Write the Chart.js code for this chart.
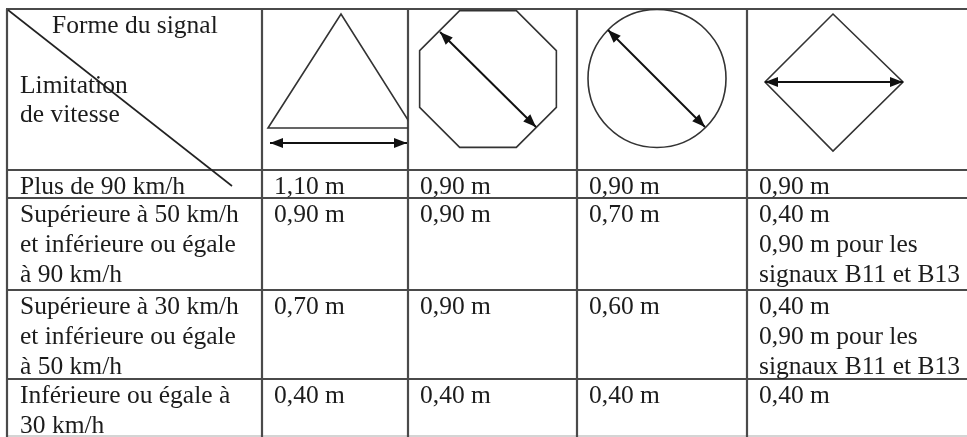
<!DOCTYPE html>
<html><head><meta charset="utf-8">
<script src="https://cdn.jsdelivr.net/npm/chart.js@4.4.1/dist/chart.umd.min.js"></script>
<style>html,body{margin:0;padding:0;background:#fff}canvas{display:block}</style>
</head><body>
<canvas id="c" width="967" height="437"></canvas>
<script>
// ---- data ----
const cornerTop = "Forme du signal";
const cornerBottom = ["Limitation", "de vitesse"];
const signalShapes = ["triangle", "octagon", "circle", "diamond"];
const speedLimits = [
  ["Plus de 90 km/h"],
  ["Supérieure à 50 km/h", "et inférieure ou égale", "à 90 km/h"],
  ["Supérieure à 30 km/h", "et inférieure ou égale", "à 50 km/h"],
  ["Inférieure ou égale à", "30 km/h"]
];
const triangleSizes = [1.10, 0.90, 0.70, 0.40];
const octagonSizes  = [0.90, 0.90, 0.90, 0.40];
const circleSizes   = [0.90, 0.70, 0.60, 0.40];
const diamondSizes  = [0.90, 0.40, 0.40, 0.40];
const diamondB11B13 = [null, 0.90, 0.90, null];
const exceptionText = ["pour les", "signaux B11 et B13"];

// ---- layout (reference units) ----
const colEdges = [7, 262, 408, 577, 747];
const rowEdges = [9, 170, 198, 290, 379, 436];
const FONT = '25.5px "Liberation Serif", "Times New Roman", serif';
const LINE = 30;

function fmt(v){ return v.toFixed(2).replace('.', ',') + ' m'; }

const tablePlugin = {
  id: 'table',
  afterDraw(chart){
    const ctx = chart.ctx, xs = chart.scales.x, ys = chart.scales.y;
    const X = v => xs.getPixelForValue(v), Y = v => ys.getPixelForValue(v);
    const right = xs.max, bottom = ys.max;
    ctx.save();
    // grid
    ctx.strokeStyle = '#4a4a4a'; ctx.lineWidth = 2.2;
    rowEdges.forEach((r, i) => {
      ctx.beginPath(); ctx.moveTo(X(colEdges[0]-1), Y(r)); ctx.lineTo(X(right), Y(r));
      if (i === rowEdges.length-1){ ctx.strokeStyle = '#aaa'; ctx.lineWidth = 1.2; }
      ctx.stroke();
    });
    ctx.strokeStyle = '#4a4a4a'; ctx.lineWidth = 2.2;
    colEdges.forEach(c => {
      ctx.beginPath(); ctx.moveTo(X(c), Y(rowEdges[0])); ctx.lineTo(X(c), Y(bottom)); ctx.stroke();
    });
    // diagonal
    ctx.lineWidth = 1.6; ctx.strokeStyle = '#222';
    ctx.beginPath(); ctx.moveTo(X(8), Y(10)); ctx.lineTo(X(232), Y(186)); ctx.stroke();

    // header text
    ctx.fillStyle = '#1c1c1c'; ctx.font = FONT; ctx.textBaseline = 'alphabetic'; ctx.textAlign = 'left';
    ctx.fillText(cornerTop, X(52), Y(33));
    cornerBottom.forEach((t, i) => ctx.fillText(t, X(20), Y(93 + i*29)));

    // shapes
    function arrow(x1,y1,x2,y2){
      const a = Math.atan2(Y(y2)-Y(y1), X(x2)-X(x1)), L = 13, w = 5;
      ctx.lineWidth = 2; ctx.strokeStyle = '#111'; ctx.fillStyle = '#111';
      ctx.beginPath(); ctx.moveTo(X(x1), Y(y1)); ctx.lineTo(X(x2), Y(y2)); ctx.stroke();
      [[X(x1),Y(y1),a+Math.PI],[X(x2),Y(y2),a]].forEach(([px,py,ang]) => {
        ctx.beginPath(); ctx.moveTo(px, py);
        ctx.lineTo(px - L*Math.cos(ang) + w*Math.sin(ang), py - L*Math.sin(ang) - w*Math.cos(ang));
        ctx.lineTo(px - L*Math.cos(ang) - w*Math.sin(ang), py - L*Math.sin(ang) + w*Math.cos(ang));
        ctx.closePath(); ctx.fill();
      });
    }
    function poly(pts){
      ctx.lineWidth = 1.6; ctx.strokeStyle = '#333';
      ctx.beginPath(); pts.forEach((p, i) => i ? ctx.lineTo(X(p[0]), Y(p[1])) : ctx.moveTo(X(p[0]), Y(p[1])));
      ctx.closePath(); ctx.stroke();
    }
    signalShapes.forEach((s, k) => {
      ctx.save();
      ctx.beginPath(); ctx.rect(X(colEdges[k+1]), Y(rowEdges[0]), X(colEdges[k+2] || right) - X(colEdges[k+1]), Y(rowEdges[1]) - Y(rowEdges[0])); ctx.clip();
      if (s === 'triangle'){
        poly([[268,128],[341,14],[413,128]]);
        arrow(270,143,407,143);
      } else if (s === 'octagon'){
        const cx = 488, cy = 79, R = 74, pts = [];
        for (let i = 0; i < 8; i++){ const a = (22.5 + 45*i) * Math.PI/180; pts.push([cx + R*Math.cos(a), cy + R*Math.sin(a)]); }
        poly(pts);
        arrow(440,32,536,127);
      } else if (s === 'circle'){
        ctx.lineWidth = 1.6; ctx.strokeStyle = '#333';
        ctx.beginPath(); ctx.arc(X(657), Y(78.5), X(726) - X(657), 0, Math.PI*2); ctx.stroke();
        arrow(608,30,705,127);
      } else {
        poly([[833,14],[903,82],[833,151],[765,82]]);
        arrow(765,82,903,82);
      }
      ctx.restore();
    });

    // body
    ctx.fillStyle = '#1c1c1c'; ctx.font = FONT;
    const cols = [triangleSizes, octagonSizes, circleSizes, diamondSizes];
    speedLimits.forEach((lines, r) => {
      const base = rowEdges[r+1] + 24;
      lines.forEach((t, i) => ctx.fillText(t, X(20), Y(base + i*LINE)));
      cols.forEach((arr, c) => ctx.fillText(fmt(arr[r]), X(colEdges[c+1] + 12), Y(base)));
      if (diamondB11B13[r] != null){
        ctx.fillText(fmt(diamondB11B13[r]) + ' ' + exceptionText[0], X(colEdges[4] + 12), Y(base + LINE));
        ctx.fillText(exceptionText[1], X(colEdges[4] + 12), Y(base + 2*LINE));
      }
    });
    ctx.restore();
  }
};

new Chart(document.getElementById('c'), {
  type: 'scatter',
  data: { datasets: [{ data: [], pointRadius: 0 }] },
  options: {
    responsive: false, animation: false, devicePixelRatio: 1,
    layout: { padding: 0 },
    plugins: { legend: { display: false }, tooltip: { enabled: false } },
    scales: {
      x: { type: 'linear', min: 0, max: 967, display: false },
      y: { type: 'linear', min: 0, max: 437, reverse: true, display: false }
    }
  },
  plugins: [tablePlugin]
});
</script>
</body></html>
